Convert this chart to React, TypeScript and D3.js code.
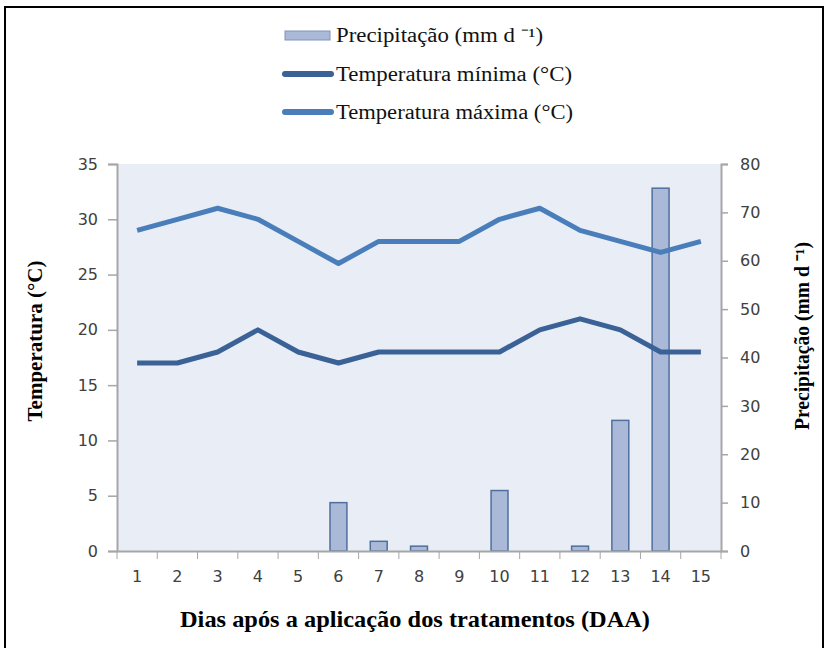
import { useEffect, useRef } from "react";
import * as d3 from "d3";

const days = ["1", "2", "3", "4", "5", "6", "7", "8", "9", "10", "11", "12", "13", "14", "15"];
const precip = [0, 0, 0, 0, 0, 10, 2, 1, 0, 12.5, 0, 1, 27, 75, 0];
const tMin = [17, 17, 18, 20, 18, 17, 18, 18, 18, 18, 20, 21, 20, 18, 18];
const tMax = [29, 30, 31, 30, 28, 26, 28, 28, 28, 30, 31, 29, 28, 27, 28];
const leftTicks = [0, 5, 10, 15, 20, 25, 30, 35];
const rightTicks = [0, 10, 20, 30, 40, 50, 60, 70, 80];

const W = 831;
const H = 648;
const m = { left: 117, right: 721, top: 164, bottom: 551 };

const serif = "'Liberation Serif', 'Times New Roman', serif";
const sans = "'DejaVu Sans', 'Open Sans', sans-serif";

const App = () => {
  const ref = useRef<SVGSVGElement>(null);

  useEffect(() => {
    const svg = d3.select(ref.current);
    svg.selectAll("*").remove();

    const x = d3.scaleBand().domain(days).range([m.left, m.right]);
    const yT = d3.scaleLinear().domain([0, 35]).range([m.bottom, m.top]);
    const yP = d3.scaleLinear().domain([0, 80]).range([m.bottom, m.top]);

    // frame
    svg.append("rect").attr("x", 5).attr("y", 7).attr("width", 818).attr("height", 660)
      .attr("fill", "#fff").attr("stroke", "#000").attr("stroke-width", 2);

    // plot background
    svg.append("rect").attr("x", m.left).attr("y", m.top)
      .attr("width", m.right - m.left).attr("height", m.bottom - m.top)
      .attr("fill", "#e9eef6");

    // bars (precipitation, right axis)
    const bw = x.bandwidth() * 0.42;
    svg.append("g").selectAll("rect")
      .data(precip.map((v, i) => ({ v, d: days[i] })).filter((p) => p.v > 0))
      .join("rect")
      .attr("x", (p) => x(p.d)! + x.bandwidth() / 2 - bw / 2)
      .attr("y", (p) => yP(p.v))
      .attr("width", bw)
      .attr("height", (p) => m.bottom - yP(p.v))
      .attr("fill", "#aab9d8")
      .attr("stroke", "#4f6f9e")
      .attr("stroke-width", 1.5);

    // axes
    const gray = "#a6a6a6";
    const gl = svg.append("g").attr("transform", `translate(${m.left},0)`)
      .call(d3.axisLeft(yT).tickValues(leftTicks).tickSize(9).tickPadding(10));
    const gr = svg.append("g").attr("transform", `translate(${m.right},0)`)
      .call(d3.axisRight(yP).tickValues(rightTicks).tickSize(7).tickPadding(12));
    const gb = svg.append("g").attr("transform", `translate(0,${m.bottom})`)
      .call(d3.axisBottom(x).tickSize(0).tickPadding(20));
    // ticks sit on the band boundaries
    gb.selectAll(".bound").data(d3.range(days.length + 1)).join("line")
      .attr("x1", (i) => m.left + i * x.step()).attr("x2", (i) => m.left + i * x.step())
      .attr("y1", 0).attr("y2", 8).attr("stroke", gray);
    [gl, gr, gb].forEach((g) => {
      g.select(".domain").attr("stroke", gray).attr("stroke-width", 2);
      g.selectAll(".tick line").attr("stroke", gray).attr("stroke-width", 1.5);
      g.selectAll("text").attr("font-family", sans).attr("font-size", 16).attr("fill", "#404040");
    });

    // temperature lines
    const line = (vals: number[]) =>
      d3.line<number>().x((_, i) => x(days[i])! + x.bandwidth() / 2).y((v) => yT(v))(vals);
    svg.append("path").attr("d", line(tMax)).attr("fill", "none")
      .attr("stroke", "#4a7ebb").attr("stroke-width", 5).attr("stroke-linejoin", "round");
    svg.append("path").attr("d", line(tMin)).attr("fill", "none")
      .attr("stroke", "#3a6296").attr("stroke-width", 5).attr("stroke-linejoin", "round");

    // axis titles
    const title = (tx: string, s: string, len: number, size: number) =>
      svg.append("text").attr("transform", tx)
        .attr("text-anchor", "middle").attr("font-family", serif).attr("font-weight", "bold")
        .attr("font-size", size).attr("textLength", len).attr("lengthAdjust", "spacingAndGlyphs")
        .text(s);
    title("translate(42,341) rotate(-90)", "Temperatura (°C)", 161, 20);
    title("translate(809,336) rotate(-90)", "Precipitação (mm d ⁻¹)", 188, 20);
    title("translate(415,627)", "Dias após a aplicação dos tratamentos (DAA)", 470, 23);

    // legend
    const lg = svg.append("g").attr("font-family", serif).attr("font-size", 20).attr("fill", "#111");
    lg.append("rect").attr("x", 285).attr("y", 31).attr("width", 45).attr("height", 9)
      .attr("fill", "#aab9d8").attr("stroke", "#7f94bd");
    lg.append("text").attr("x", 336).attr("y", 42).attr("textLength", 207)
      .attr("lengthAdjust", "spacingAndGlyphs").text("Precipitação (mm d ⁻¹)");
    lg.append("line").attr("x1", 285).attr("x2", 331).attr("y1", 74).attr("y2", 74)
      .attr("stroke", "#3a6296").attr("stroke-width", 6).attr("stroke-linecap", "round");
    lg.append("text").attr("x", 336).attr("y", 81).attr("textLength", 236)
      .attr("lengthAdjust", "spacingAndGlyphs").text("Temperatura mínima (°C)");
    lg.append("line").attr("x1", 285).attr("x2", 331).attr("y1", 112).attr("y2", 112)
      .attr("stroke", "#4a7ebb").attr("stroke-width", 6).attr("stroke-linecap", "round");
    lg.append("text").attr("x", 336).attr("y", 119).attr("textLength", 237)
      .attr("lengthAdjust", "spacingAndGlyphs").text("Temperatura máxima (°C)");
  }, []);

  return (
    <svg ref={ref} width={W} height={H}
      style={{ position: "absolute", left: 0, top: 0, background: "#fff" }} />
  );
};

export default App;
